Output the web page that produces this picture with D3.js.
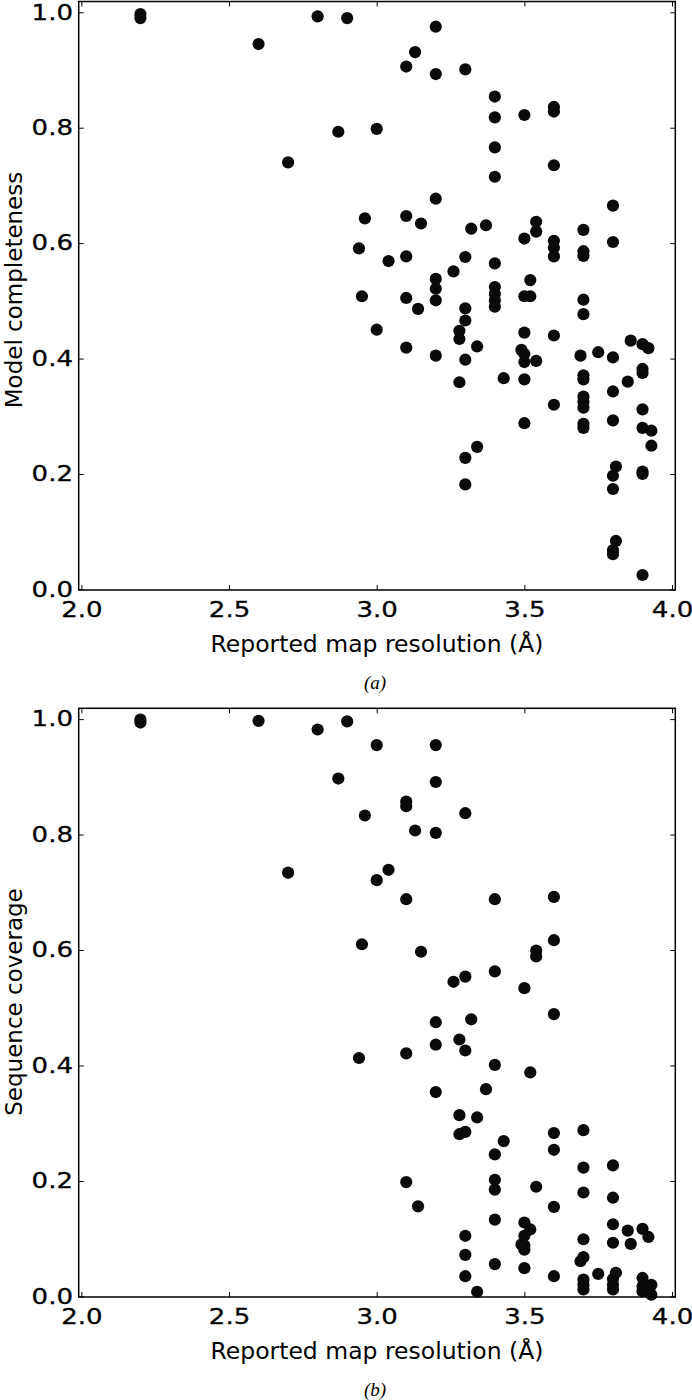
<!DOCTYPE html>
<html>
<head>
<meta charset="utf-8">
<script src="https://cdn.jsdelivr.net/npm/d3@7"></script>
<style>
  html, body { margin: 0; padding: 0; background: #fff; }
  svg { display: block; }
  text { font-family: "DejaVu Sans", sans-serif; fill: #000; }
</style>
</head>
<body>
<svg id="chart" width="692" height="1400"></svg>
<script>
// ---------- Data ----------
const xTicks = [2.0, 2.5, 3.0, 3.5, 4.0];
const yTicks = [0.0, 0.2, 0.4, 0.6, 0.8, 1.0];

// Panel (a): reported map resolution vs model completeness
const resolutionA = [
  2.2, 2.2, 2.6, 2.7, 2.8, 2.87, 2.9, 2.94, 2.95, 2.96,
  3.0, 3.0, 3.04, 3.1, 3.1, 3.1, 3.1, 3.1, 3.13, 3.14,
  3.15, 3.2, 3.2, 3.2, 3.2, 3.2, 3.2, 3.2, 3.26, 3.28,
  3.28, 3.28, 3.3, 3.3, 3.3, 3.3, 3.3, 3.3, 3.3, 3.32,
  3.34, 3.34, 3.37, 3.4, 3.4, 3.4, 3.4, 3.4, 3.4, 3.4,
  3.4, 3.4, 3.43, 3.49, 3.5, 3.5, 3.5, 3.5, 3.5, 3.5,
  3.5, 3.5, 3.52, 3.52, 3.54, 3.54, 3.54, 3.6, 3.6, 3.6,
  3.6, 3.6, 3.6, 3.6, 3.6, 3.69, 3.7, 3.7, 3.7, 3.7,
  3.7, 3.7, 3.7, 3.7, 3.7, 3.7, 3.7, 3.7, 3.75, 3.8,
  3.8, 3.8, 3.8, 3.8, 3.8, 3.8, 3.8, 3.8, 3.81, 3.81,
  3.85, 3.86, 3.9, 3.9, 3.9, 3.9, 3.9, 3.9, 3.9, 3.9,
  3.92, 3.93, 3.93
];
const completenessA = [
  0.997, 0.990, 0.945, 0.740, 0.993, 0.793, 0.990, 0.591, 0.508, 0.643,
  0.798, 0.450, 0.569, 0.906, 0.647, 0.577, 0.505, 0.419, 0.931, 0.486,
  0.634, 0.975, 0.893, 0.677, 0.538, 0.521, 0.501, 0.405, 0.551, 0.448,
  0.434, 0.359, 0.901, 0.576, 0.487, 0.466, 0.398, 0.228, 0.182, 0.625,
  0.421, 0.247, 0.631, 0.854, 0.818, 0.766, 0.715, 0.565, 0.524, 0.512,
  0.501, 0.490, 0.366, 0.415, 0.822, 0.608, 0.508, 0.445, 0.408, 0.394,
  0.364, 0.288, 0.536, 0.508, 0.637, 0.620, 0.396, 0.836, 0.828, 0.735,
  0.604, 0.592, 0.577, 0.440, 0.320, 0.405, 0.623, 0.586, 0.578, 0.502,
  0.477, 0.371, 0.364, 0.334, 0.325, 0.315, 0.287, 0.280, 0.411, 0.665,
  0.602, 0.402, 0.343, 0.293, 0.197, 0.174, 0.068, 0.061, 0.213, 0.084,
  0.360, 0.431, 0.425, 0.382, 0.375, 0.312, 0.280, 0.204, 0.200, 0.025,
  0.418, 0.275, 0.249
];

// Panel (b): reported map resolution vs sequence coverage
const resolutionB = [
  2.2, 2.2, 2.6, 2.7, 2.8, 2.87, 2.9, 2.94, 2.95, 2.96,
  3.0, 3.0, 3.04, 3.1, 3.1, 3.1, 3.1, 3.1, 3.13, 3.14,
  3.15, 3.2, 3.2, 3.2, 3.2, 3.2, 3.2, 3.26, 3.28, 3.28,
  3.28, 3.3, 3.3, 3.3, 3.3, 3.3, 3.3, 3.3, 3.32, 3.34,
  3.34, 3.37, 3.4, 3.4, 3.4, 3.4, 3.4, 3.4, 3.4, 3.4,
  3.43, 3.49, 3.5, 3.5, 3.5, 3.5, 3.5, 3.5, 3.52, 3.52,
  3.54, 3.54, 3.54, 3.6, 3.6, 3.6, 3.6, 3.6, 3.6, 3.6,
  3.69, 3.7, 3.7, 3.7, 3.7, 3.7, 3.7, 3.7, 3.7, 3.75,
  3.8, 3.8, 3.8, 3.8, 3.8, 3.8, 3.8, 3.81, 3.85, 3.86,
  3.9, 3.9, 3.9, 3.9, 3.92, 3.93, 3.93
];
const coverageB = [
  0.999, 0.994, 0.997, 0.734, 0.982, 0.897, 0.996, 0.413, 0.610, 0.833,
  0.955, 0.721, 0.739, 0.857, 0.849, 0.688, 0.421, 0.198, 0.807, 0.156,
  0.597, 0.955, 0.891, 0.803, 0.475, 0.436, 0.354, 0.545, 0.445, 0.314,
  0.281, 0.837, 0.554, 0.426, 0.285, 0.105, 0.072, 0.035, 0.480, 0.310,
  0.008, 0.359, 0.688, 0.563, 0.401, 0.246, 0.202, 0.185, 0.133, 0.056,
  0.269, 0.090, 0.534, 0.128, 0.105, 0.088, 0.081, 0.049, 0.388, 0.116,
  0.599, 0.589, 0.190, 0.692, 0.617, 0.489, 0.283, 0.254, 0.155, 0.035,
  0.061, 0.288, 0.223, 0.180, 0.099, 0.068, 0.029, 0.020, 0.012, 0.039,
  0.227, 0.171, 0.125, 0.093, 0.030, 0.020, 0.012, 0.041, 0.114, 0.091,
  0.117, 0.032, 0.017, 0.009, 0.103, 0.020, 0.003
];

const panels = [
  { xs: resolutionA, ys: completenessA, top: 1.5, bottom: 590, ylabel: "Model completeness", ylabelY: 290, caption: "(a)" },
  { xs: resolutionB, ys: coverageB, top: 708.3, bottom: 1297, ylabel: "Sequence coverage", ylabelY: 1002, caption: "(b)" }
];

const svg = d3.select("#chart");
const left = 78.7, right = 675.3;
const x = d3.scaleLinear().domain([1.991, 4.011]).range([left, right]);

panels.forEach(p => {
  const y = d3.scaleLinear().domain([-0.001, 1.0187]).range([p.bottom, p.top]);
  const g = svg.append("g");

  // points
  g.append("g").selectAll("circle")
    .data(p.xs.map((v, i) => [v, p.ys[i]]))
    .join("circle")
    .attr("cx", d => x(d[0]))
    .attr("cy", d => y(d[1]))
    .attr("r", 6.1)
    .attr("fill", "#0a0a0a");

  // axes with inward ticks
  const ax = g.append("g").attr("transform", `translate(0,${p.bottom})`)
    .call(d3.axisBottom(x).tickValues(xTicks).tickFormat(d3.format(".1f"))
      .tickSizeInner(-5).tickSizeOuter(0).tickPadding(12));
  const axT = g.append("g").attr("transform", `translate(0,${p.top})`)
    .call(d3.axisTop(x).tickValues(xTicks).tickFormat("")
      .tickSizeInner(-5).tickSizeOuter(0));
  const ay = g.append("g").attr("transform", `translate(${left},0)`)
    .call(d3.axisLeft(y).tickValues(yTicks).tickFormat(d3.format(".1f"))
      .tickSizeInner(-5).tickSizeOuter(0).tickPadding(4.6));
  const ayR = g.append("g").attr("transform", `translate(${right},0)`)
    .call(d3.axisRight(y).tickValues(yTicks).tickFormat("")
      .tickSizeInner(-5).tickSizeOuter(0));

  [ax, axT, ay, ayR].forEach(a => {
    a.select(".domain").remove();
    a.selectAll(".tick line").attr("stroke", "#000").attr("stroke-width", 1);
    a.selectAll(".tick text")
      .style("font-family", "'DejaVu Sans', sans-serif")
      .style("font-size", "21px")
      .attr("fill", "#000")
      .attr("stroke", "#000").attr("stroke-width", 0.3)
      .attr("transform", "scale(1.24,1)");
  });

  // frame
  g.append("rect")
    .attr("x", left).attr("y", p.top)
    .attr("width", right - left).attr("height", p.bottom - p.top)
    .attr("fill", "none").attr("stroke", "#000").attr("stroke-width", 1.5);

  // labels
  g.append("text")
    .attr("x", (left + right) / 2).attr("y", p.bottom + 62)
    .attr("text-anchor", "middle")
    .style("font-size", "23.5px")
    .text("Reported map resolution (Å)");
  g.append("text")
    .attr("transform", `translate(22,${p.ylabelY}) rotate(-90)`)
    .attr("text-anchor", "middle")
    .style("font-size", "23px")
    .text(p.ylabel);
  g.append("text")
    .attr("x", 375).attr("y", p.bottom + 99)
    .attr("text-anchor", "middle")
    .style("font-family", "'Liberation Serif', 'DejaVu Serif', serif")
    .style("font-style", "italic")
    .style("font-size", "19px")
    .text(p.caption);
});
</script>
</body>
</html>
